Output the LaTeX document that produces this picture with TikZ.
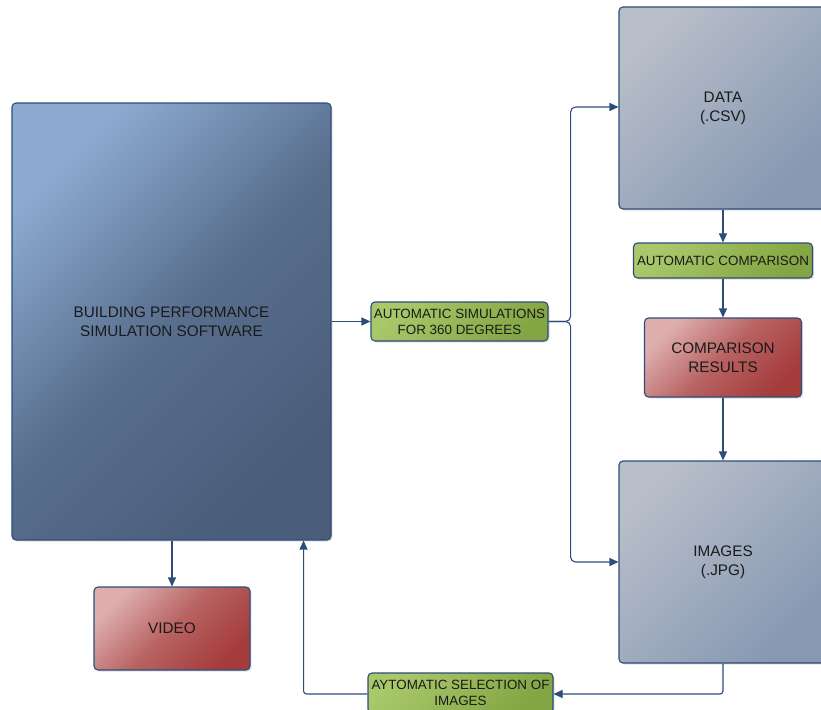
\documentclass[tikz,border=0pt]{standalone}
\usepackage{fontspec}
\setmainfont{Liberation Sans}
\usetikzlibrary{arrows.meta,shadows}
\definecolor{edgeblue}{HTML}{2C4D7A}
\definecolor{txt}{HTML}{1A1A1A}
\definecolor{bpsA}{HTML}{8CAAD0}
\definecolor{bpsM}{HTML}{586E8D}
\definecolor{bpsB}{HTML}{4A5D7B}
\definecolor{grayA}{HTML}{B8BEC9}
\definecolor{grayB}{HTML}{8698B2}
\definecolor{redA}{HTML}{DEAEAE}
\definecolor{redM}{HTML}{B86262}
\definecolor{redB}{HTML}{A53C3C}
\definecolor{grnA}{HTML}{A9C86A}
\definecolor{grnB}{HTML}{84A543}
\begin{document}
\begin{tikzpicture}[x=1pt,y=-1pt,
  boxbase/.style={draw=edgeblue, line width=1.1pt, rounded corners=4pt, inner sep=0pt,
    text=txt, align=center, drop shadow={opacity=0.25, shadow xshift=1.5pt, shadow yshift=-1.5pt}},
  bigfont/.style={font=\fontsize{15.3}{19}\selectfont},
  bluebox/.style={boxbase, top color=bpsA, bottom color=bpsB, middle color=bpsM, shading angle=45, bigfont},
  graybox/.style={boxbase, top color=grayA, bottom color=grayB, shading angle=45, bigfont},
  redbox/.style={boxbase, top color=redA, bottom color=redB, middle color=redM, shading angle=45, bigfont},
  greenbox/.style={boxbase, top color=grnA, bottom color=grnB, shading angle=45,
    font=\fontsize{13.4}{16}\selectfont},
  conn/.style={draw=edgeblue, line width=1.1pt},
  arr/.style={conn, -{Triangle[length=9pt,width=8pt]}}
]
\useasboundingbox (0,0) rectangle (821,709);
\clip (0,0) rectangle (821,709);

\node[bluebox, minimum width=319pt, minimum height=437pt] (bps) at (171.5,321.5)
  {BUILDING PERFORMANCE\\SIMULATION SOFTWARE};
\node[greenbox, minimum width=177pt, minimum height=39pt] (g1) at (459.5,321.5)
  {AUTOMATIC SIMULATIONS\\FOR 360 DEGREES};
\node[graybox, minimum width=208pt, minimum height=202pt] (data) at (723,108)
  {DATA\\(.CSV)};
\node[greenbox, minimum width=179pt, minimum height=35pt] (g2) at (723,260.5)
  {AUTOMATIC COMPARISON};
\node[redbox, minimum width=157pt, minimum height=79pt] (res) at (723,357.5)
  {COMPARISON\\RESULTS};
\node[graybox, minimum width=208pt, minimum height=202pt] (img) at (723,562)
  {IMAGES\\(.JPG)};
\node[greenbox, minimum width=185pt, minimum height=40pt] (g3) at (460.5,693)
  {AYTOMATIC SELECTION OF\\IMAGES};
\node[redbox, minimum width=156pt, minimum height=83pt] (video) at (172,628.5)
  {VIDEO};

\coordinate (split) at ([xshift=22pt]g1.east);
\coordinate (back) at ([xshift=-28pt]bps.south east);

\draw[arr] (bps.east |- g1.west) -- (g1.west);
\draw[arr, rounded corners=5pt] (g1.east) -- (split) |- ([yshift=1pt]data.west);
\draw[arr, rounded corners=5pt] (g1.east) -- (split) |- (img.west);
\draw[arr] (data.south) -- (g2.north);
\draw[arr] (g2.south) -- (res.north);
\draw[arr] (res.south) -- (img.north);
\draw[arr, rounded corners=3pt] (img.south) |- ([yshift=-1pt]g3.east);
\draw[arr, rounded corners=3pt] ([yshift=-1pt]g3.west) -| (back);
\draw[arr] (video.north |- bps.south) -- (video.north);
\end{tikzpicture}
\end{document}
